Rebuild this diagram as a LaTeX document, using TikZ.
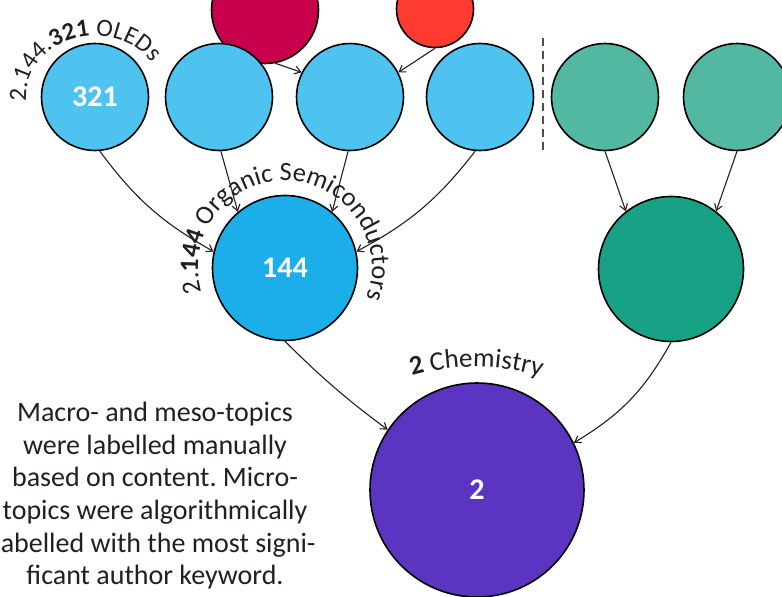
\documentclass[tikz,border=0pt]{standalone}
\usepackage{fontspec}
\setmainfont{Carlito}
\usetikzlibrary{arrows.meta,decorations.text}
\definecolor{microBlue}{HTML}{4FC3F0}
\definecolor{mesoBlue}{HTML}{1BAEE8}
\definecolor{microGreen}{HTML}{52B8A2}
\definecolor{mesoGreen}{HTML}{17A286}
\definecolor{macroPurple}{HTML}{5B35C1}
\definecolor{topCrimson}{HTML}{C8004B}
\definecolor{topRed}{HTML}{FF3B30}
\definecolor{inkGray}{HTML}{231F20}
\frenchspacing

\begin{document}
\begin{tikzpicture}[
			x=1pt, y=1pt,
			topic/.style={circle, draw=black, line width=1.6pt, inner sep=0pt,
				text=white, font=\fontsize{30}{30}\selectfont\bfseries},
			micro/.style={topic, minimum size=107pt},
			meso/.style={topic, minimum size=145pt},
			macro/.style={topic, minimum size=214pt},
			arrow/.style={-{Straight Barb[length=6pt, width=8pt]}, line width=1.1pt, inkGray},
			arctext/.style={decorate, decoration={text along path, text align=left,
					text color=inkGray, text={#1}}}
			]
			\clip (0,0) rectangle (782,-597);
			% upper level, cut off by the frame
			\node[micro, fill=topCrimson] (crimson) at (265,-10) {};
			\node[micro, fill=topRed, minimum size=77pt] (red) at (435,-9) {};
			% micro-topics
			\node[micro, fill=microBlue] (oleds) at (95,-97) {321};
			\node[micro, fill=microBlue] (blueB) at (219,-97) {};
			\node[micro, fill=microBlue] (blueC) at (350,-97) {};
			\node[micro, fill=microBlue] (blueD) at (480,-97) {};
			\node[micro, fill=microGreen] (greenA) at (605,-97) {};
			\node[micro, fill=microGreen] (greenB) at (737,-97) {};
			\draw[dashed, line width=1.6pt, inkGray!80, dash pattern=on 8pt off 5pt] (543,-38) -- (543,-150);
			% meso-topics
			\node[meso, fill=mesoBlue] (semi) at (285,-268) {144};
			\node[meso, fill=mesoGreen] (greenM) at (671,-269) {};
			% macro-topic
			\node[macro, fill=macroPurple] (chem) at (477,-490) {2};
			\draw[arrow] (crimson.-79) -- (blueC.153);
			\draw[arrow] (red.-90) -- (blueC.27);
			\draw[arrow] (oleds.-85) to[bend right=12] (semi.167);
			\draw[arrow] (blueB.-88) -- (semi.130);
			\draw[arrow] (blueC.-92) -- (semi.50);
			\draw[arrow] (blueD.-95) to[bend left=12] (semi.13);
			\draw[arrow] (greenA.-90) -- (greenM.128);
			\draw[arrow] (greenB.-90) -- (greenM.52);
			\draw[arrow] (semi.-90) to[bend right=4] (chem.146);
			\draw[arrow] (greenM.-90) to[bend left=15] (chem.26);
			% curved labels
			{\fontsize{25}{25}\selectfont
				\path[arctext={2.144.|\bfseries|321|\mdseries| OLEDs}]
				(95,-97) ++(184:69 and 61) arc[start angle=184, end angle=0, x radius=69, y radius=61];
			}
			{\fontsize{26.5}{26.5}\selectfont
				\path[arctext={2.|\bfseries|144|\mdseries| Organic Semiconductors}]
				(285,-268) ++(196:87) arc[start angle=196, end angle=-40, radius=87];
			}
			{\fontsize{27}{27}\selectfont
				\path[arctext={|\bfseries|2|\mdseries| Chemistry}]
				(475,-596) ++(106:229) arc[start angle=106, end angle=60, radius=229];
			}
			\node[anchor=north, inner sep=0pt, align=center, text=inkGray,
				font=\fontsize{28}{32.6}\selectfont] (note) at (155,-402)
				{Macro- and meso-topics\\ were labelled manually\\ based on content. Micro-\\
				topics were algorithmically\\ labelled with the most signi-\\ ficant author keyword.};
		\end{tikzpicture}
\end{document}
